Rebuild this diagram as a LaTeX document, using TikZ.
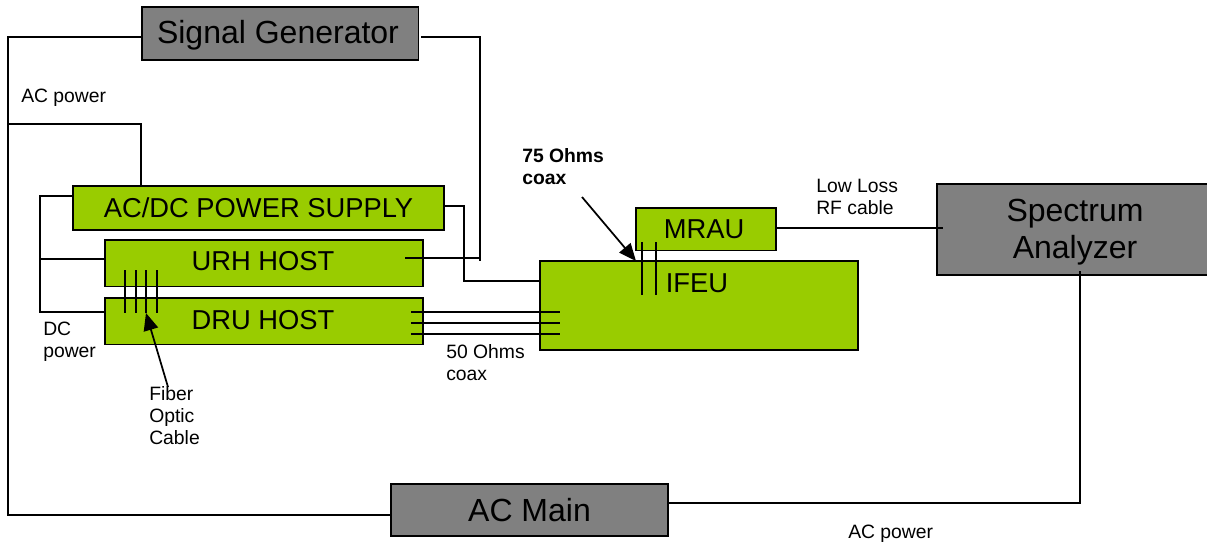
\documentclass[tikz,border=0pt]{standalone}
\usepackage{fontspec}
\setmainfont{Liberation Sans}
\usetikzlibrary{arrows.meta}
\definecolor{boxgreen}{HTML}{99CC00}
\definecolor{boxgray}{HTML}{808080}
\tikzset{x=0.75pt,y=-0.75pt,
 gbox/.style={draw=black,line width=1.3pt,fill=boxgreen,inner sep=0pt,anchor=north west},
 graybox/.style={gbox,fill=boxgray},
 wire/.style={line width=1.1pt,black},
 lab/.style={font=\fontsize{14.5}{16.5}\selectfont,align=left,anchor=north west,inner sep=0pt,text=black},
 big/.style={font=\fontsize{20.5}{24}\selectfont},
 huge/.style={font=\fontsize{24}{28}\selectfont},
 pointer/.style={line width=1.3pt,black,-{Triangle[length=13pt,width=11pt]}}}
\begin{document}
\begin{tikzpicture}
\useasboundingbox (0,0) rectangle (1207,544);
\path[fill=white] (0,0) rectangle (1207,544);
% boxes
\node[gbox,minimum width=278.5pt,minimum height=33pt,big] (psu) at (72,185) {AC/DC POWER SUPPLY};
\node[gbox,minimum width=238.5pt,minimum height=35pt] (urh) at (104,239) {};
\node[big,inner sep=0pt] (urht) at (263,261) {URH HOST};
\node[gbox,minimum width=238.5pt,minimum height=35pt] (dru) at (104,297) {};
\node[big,inner sep=0pt] (drut) at (263,320) {DRU HOST};
\node[gbox,minimum width=238.5pt,minimum height=67pt] (ifeu) at (539,260) {};
\node[big,inner sep=0pt] (ifeut) at (697,283) {IFEU};
\node[gbox,minimum width=105pt,minimum height=32pt] (mrau) at (635,207) {};
\node[big,inner sep=0pt] (mraut) at (704,229) {MRAU};
\node[graybox,minimum width=207.5pt,minimum height=40pt] (sg) at (141,6) {};
\node[huge,inner sep=0pt] (sgt) at (278,35) {Signal Generator};
\node[graybox,minimum width=207pt,minimum height=68.5pt] (sa) at (936,183) {};
\node[huge,inner sep=0pt,align=center,font=\fontsize{24}{28}\selectfont] (sat) at (1075,232) {Spectrum\\Analyzer};
\node[graybox,minimum width=208pt,minimum height=39pt,huge] (acm) at (390,483) {AC Main};
% junctions
\coordinate (acj) at (8,124);
\coordinate (dcj) at (40,259);
\coordinate (sgend) at (405,258);
\coordinate (sabot) at (1080,271);
% wires
\draw[wire] (sg.west |- 0,37) -- (8,37) -- (8,515) -- (acm.west |- 0,515);
\draw[wire] (acj) -- (141,124) -- (141,185);
\draw[wire] (421,37) -- (480,37) -- (480,261);
\draw[wire] (sgend) -- (480,258);
\draw[wire] (psu.west |- 0,196) -- (40,196) -- (40,312) -- (dru.west |- 0,312);
\draw[wire] (dcj) -- (urh.west |- 0,259);
\draw[wire] (psu.east |- 0,206) -- (464,206) -- (464,281) -- (ifeu.west |- 0,281);
\foreach \y in {312,323,334} \draw[wire] (411,\y) -- (560,\y);
\foreach \x in {125,136,146,157} \draw[wire] (\x,270) -- (\x,313);
\foreach \x in {642,656} \draw[wire] (\x,242) -- (\x,295);
\draw[wire] (mrau.east |- 0,228) -- (943,228);
\draw[wire] (sabot) -- (1080,503) -- (acm.east |- 0,503);
% pointers
\coordinate (fibertail) at (168,387);
\coordinate (fibertip) at (146,313);
\coordinate (coaxtail) at (582,197);
\coordinate (coaxtip) at (636,261);
\draw[pointer] (fibertail) -- (fibertip);
\draw[pointer] (coaxtail) -- (coaxtip);
% labels
\node[lab] at (21,89) {AC power};
\node[lab] at (43,322) {DC\\power};
\node[lab] at (149,386) {Fiber\\Optic\\Cable};
\node[lab,font=\bfseries\fontsize{14.5}{16.5}\selectfont] at (522,148) {75 Ohms\\coax};
\node[lab] at (446,344) {50 Ohms\\coax};
\node[lab] at (816,179) {Low Loss\\RF cable};
\node[lab] at (848,525) {AC power};
\end{tikzpicture}
\end{document}
